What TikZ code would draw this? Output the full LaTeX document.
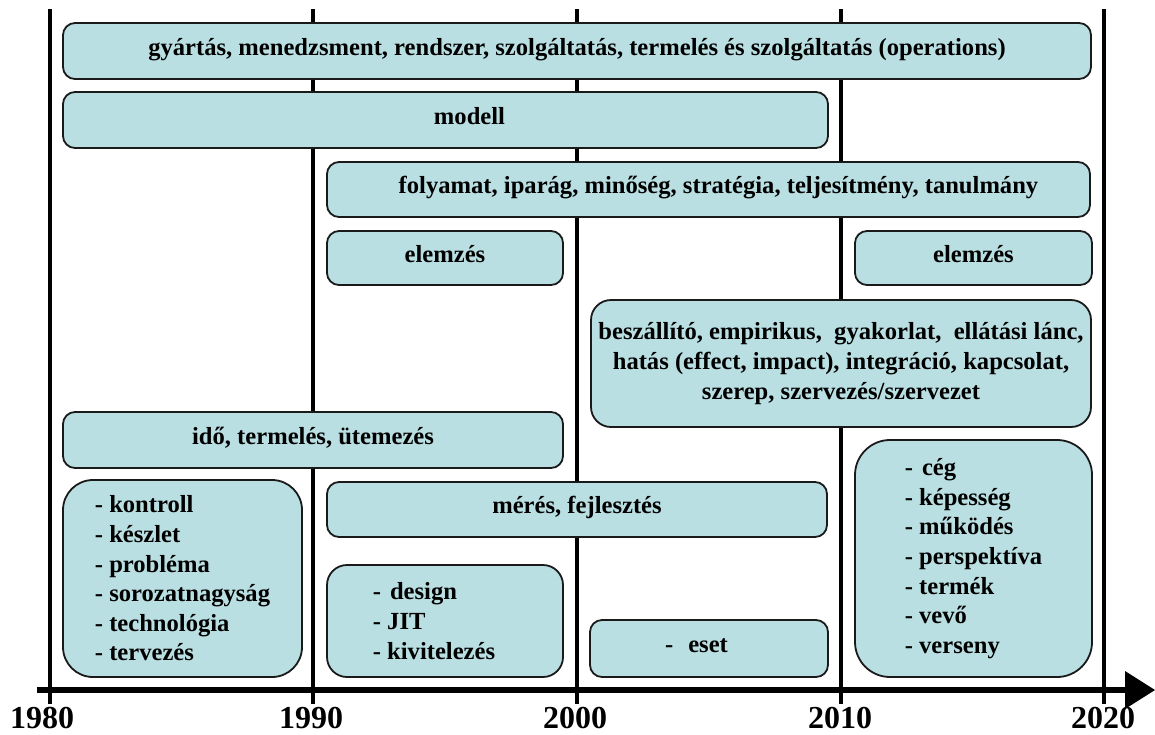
\documentclass[tikz,border=0pt]{standalone}
\usepackage{fontspec}
\setmainfont{Liberation Serif}
\usetikzlibrary{arrows.meta}
\definecolor{boxfill}{HTML}{B9DFE3}
\definecolor{boxline}{HTML}{1A1A1A}
\begin{document}
\begin{tikzpicture}[x=1pt,y=-1pt,
  band/.style={draw=boxline, line width=1.8pt, fill=boxfill,
    rounded corners=12pt, inner sep=0pt, align=center,
    font=\fontsize{24.6}{29.6}\selectfont\bfseries},
  oneline/.style={band, text height=17pt, text depth=9pt},
  listbox/.style={band, align=left},
  yearline/.style={line width=4pt, black},
  year/.style={font=\fontsize{32}{36}\selectfont\bfseries, anchor=base, inner sep=0pt}]
\useasboundingbox (0,0) rectangle (1155,734);

% decade lines
\foreach \n/\x in {a/50,b/313,c/577,d/841,e/1104}{
  \coordinate (top\n) at (\x,9);
  \coordinate (bot\n) at (\x,704);
  \draw[yearline] (top\n) -- (bot\n);
}

% time axis
\coordinate (axstart) at (37,690);
\coordinate (axend) at (1155,690);
\draw[line width=6pt, -{Triangle[length=30pt,width=38pt,line width=0pt]}] (axstart) -- (axend);

% year labels
\node[year] (y1980) at (42,728) {1980};
\node[year] (y1990) at (311,728) {1990};
\node[year] (y2000) at (575,728) {2000};
\node[year] (y2010) at (840,728) {2010};
\node[year] (y2020) at (1103,728) {2020};

% topic boxes
\node[oneline, minimum width=1028pt, minimum height=56pt] (gyartas) at (577,51)
  {gyártás, menedzsment, rendszer, szolgáltatás, termelés és szolgáltatás (operations)};
\node[oneline, minimum width=765pt, minimum height=56pt] (modell) at (445.5,120)
  {\hspace*{48pt}modell};
\node[oneline, minimum width=763pt, minimum height=55pt] (folyamat) at (708.5,189.5)
  {\hspace*{20pt}folyamat, iparág, minőség, stratégia, teljesítmény, tanulmány};
\node[oneline, minimum width=236pt, minimum height=54pt] (elemzesA) at (445,258) {elemzés};
\node[oneline, minimum width=237pt, minimum height=54pt] (elemzesB) at (973.5,258) {elemzés};
\node[band, rounded corners=20pt, minimum width=500pt, minimum height=127pt] (beszallito) at (841,363.5)
  {beszállító, empirikus,\ \ gyakorlat,\ \ ellátási lánc,\\
   hatás (effect, impact), integráció, kapcsolat,\\
   szerep, szervezés/szervezet};
\node[oneline, minimum width=500pt, minimum height=56pt] (ido) at (313,440)
  {idő, termelés, ütemezés};
\node[listbox, rounded corners=30pt, minimum width=239pt, minimum height=197pt] (kontroll) at (182.5,578.5)
  {- kontroll\\- készlet\\- probléma\\- sorozatnagyság\\- technológia\\- tervezés};
\node[oneline, minimum width=500pt, minimum height=55pt] (meres) at (577,509.5)
  {mérés, fejlesztés};
\node[listbox, rounded corners=20pt, minimum width=236pt, minimum height=112pt] (design) at (445,621)
  {-\hspace{9pt}design\\- JIT\\- kivitelezés\hspace*{22pt}};
\node[oneline, minimum width=238pt, minimum height=57pt] (eset) at (709,648.5)
  {-\hspace{15pt}eset\hspace*{25pt}};
\node[listbox, rounded corners=35pt, minimum width=237pt, minimum height=237pt] (ceg) at (973.5,558.5)
  {-\hspace{9pt}cég\\- képesség\\- működés\\- perspektíva\\- termék\\- vevő\\- verseny\hspace*{16pt}};
\end{tikzpicture}
\end{document}
